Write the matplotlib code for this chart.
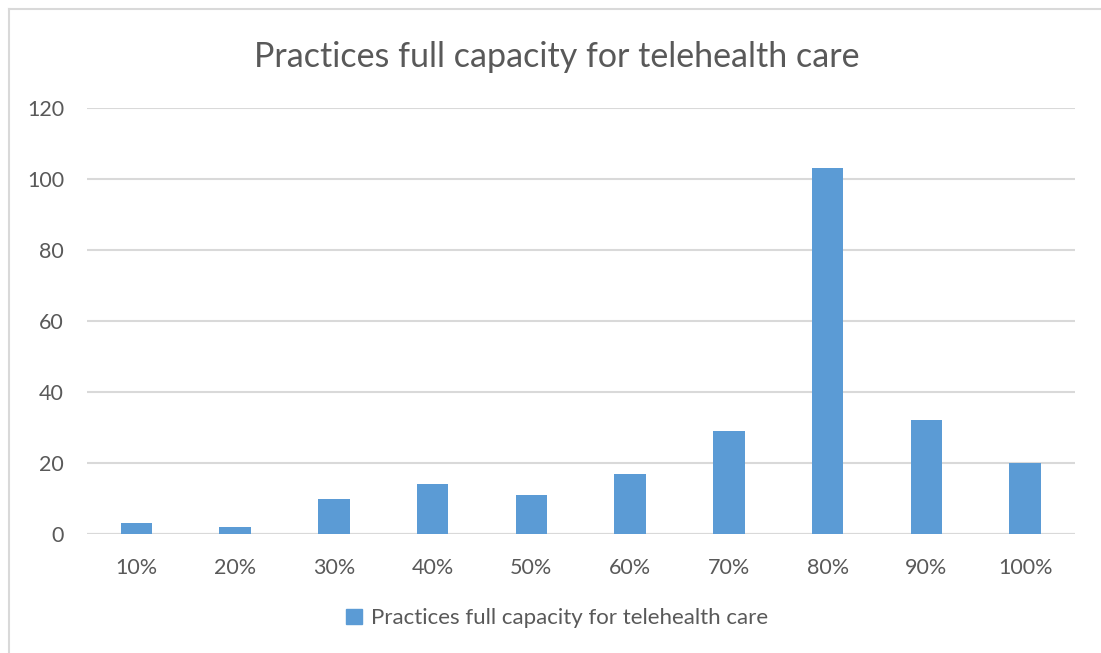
import matplotlib.pyplot as plt
from matplotlib.lines import Line2D

categories = ['10%', '20%', '30%', '40%', '50%', '60%', '70%', '80%', '90%', '100%']
counts = [3, 2, 10, 14, 11, 17, 29, 103, 32, 20]
y_ticks = [0, 20, 40, 60, 80, 100, 120]
series_name = 'Practices full capacity for telehealth care'

bar_color = '#5b9bd5'
text_color = '#595959'
grid_color = '#d9d9d9'

plt.rcParams['font.family'] = ['Lato', 'DejaVu Sans']

fig = plt.figure(figsize=(11.01, 6.53), dpi=100)
ax = fig.add_axes([0.079, 0.1822, 0.897, 0.6524])

x = range(len(categories))
ax.bar(x, counts, width=0.32, color=bar_color, label=series_name, zorder=3)

ax.set_xlim(-0.5, len(categories) - 0.5)
ax.set_ylim(0, 120)
ax.set_yticks(y_ticks)
ax.set_xticks(list(x))
ax.set_xticklabels(categories)
ax.grid(axis='y', color=grid_color, linewidth=1.5, zorder=0)
for s in ax.spines.values():
    s.set_visible(False)
ax.axhline(0, color=grid_color, linewidth=1.5, zorder=1)
ax.tick_params(length=0, labelsize=15.5, labelcolor=text_color)
ax.tick_params(axis='x', pad=17)
ax.tick_params(axis='y', pad=16.5)

fig.text(0.506, 0.912, series_name, ha='center', va='center', fontsize=24.5,
         color=text_color)

handle = plt.Rectangle((0, 0), 1, 1, color=bar_color)
fig.legend([handle], [series_name], loc='center', bbox_to_anchor=(0.506, 0.053),
           frameon=False, fontsize=16, labelcolor=text_color,
           handlelength=0.7, handleheight=0.7, handletextpad=0.4)

# outer chart border
fig.add_artist(Line2D([0.0086, 0.0086], [0, 0.986], color=grid_color, lw=1.5))
fig.add_artist(Line2D([0.0086, 1], [0.986, 0.986], color=grid_color, lw=1.5))

fig.savefig('out.png', dpi=100)
